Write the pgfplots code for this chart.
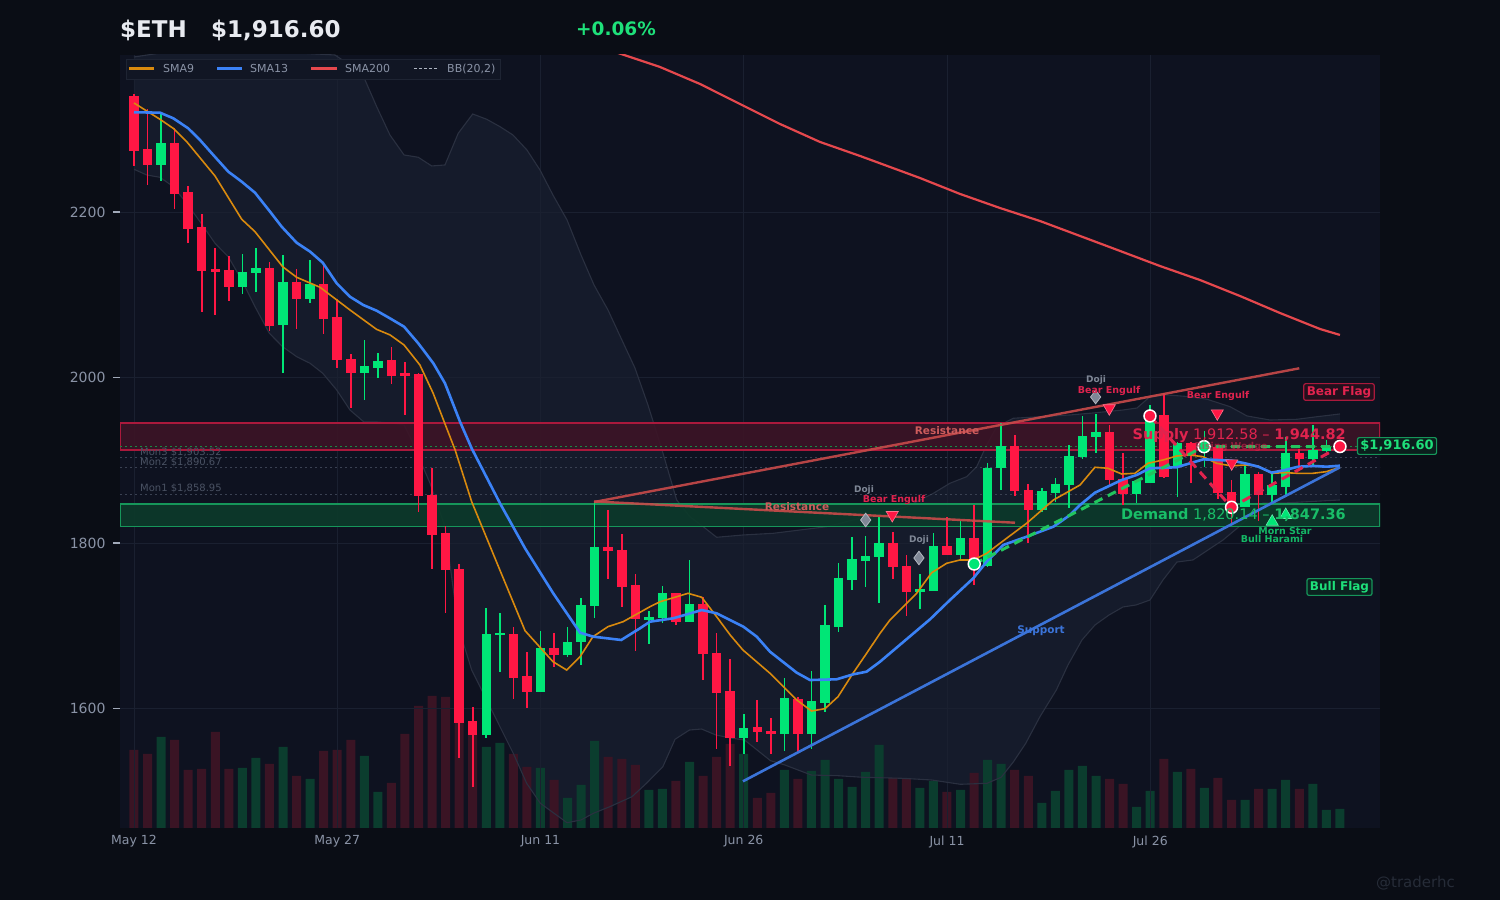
\documentclass[border=0pt]{standalone}
\usepackage{fontspec}
\setmainfont{DejaVu Sans}
\usepackage{pgfplots}
\pgfplotsset{compat=1.18}
\usepackage{pgfplotstable}

\definecolor{outerbg}{HTML}{0A0D15}
\definecolor{plotbg}{HTML}{0E1220}
\definecolor{bbfill}{HTML}{151B2B}
\definecolor{bbline}{HTML}{2A3040}
\definecolor{gridc}{HTML}{1A2030}
\definecolor{tickc}{HTML}{8A93A6}
\definecolor{bull}{HTML}{00E676}
\definecolor{bear}{HTML}{FF1744}
\definecolor{volbull}{HTML}{0B3D2E}
\definecolor{volbear}{HTML}{3A1424}
\definecolor{smanine}{HTML}{D98A0E}
\definecolor{smathirteen}{HTML}{3B82F6}
\definecolor{smatwohundred}{HTML}{E5484D}
\definecolor{supfill}{HTML}{3C1426}
\definecolor{supedge}{HTML}{AA193C}
\definecolor{demfill}{HTML}{0C3A2A}
\definecolor{demedge}{HTML}{16965A}
\definecolor{resc}{HTML}{C94A4A}
\definecolor{supc}{HTML}{3B74D9}
\definecolor{dgreen}{HTML}{22C55E}
\definecolor{dred}{HTML}{E0234E}
\definecolor{monc}{HTML}{3A4152}
\definecolor{monlab}{HTML}{4A5263}
\definecolor{legbg}{HTML}{111624}
\definecolor{legedge}{HTML}{1E2433}
\definecolor{titlec}{HTML}{E8EAF0}
\definecolor{pctc}{HTML}{1EE07A}
\definecolor{dojic}{HTML}{7F8796}
\definecolor{labgreen}{HTML}{14B866}
\definecolor{wmark}{HTML}{262C38}

\newcommand\fs[1]{\fontsize{#1}{#1}\selectfont}

% candles: i O H L C
\pgfplotstableread{
i O H L C
2 2257 2319 2237 2283
8 2110 2149 2101 2127
9 2127 2156 2103 2132
11 2064 2148 2006 2115
13 2096 2142 2090 2112
17 2006 2045 1973 2013
18 2012 2030 1999 2019
26 1568 1721 1564 1690
27 1689 1716 1644 1691
30 1620 1694 1620 1673
32 1665 1698 1662 1680
33 1681 1733 1652 1725
34 1724 1849 1709 1795
38 1708 1718 1678 1710
39 1710 1748 1703 1739
41 1705 1779 1704 1726
45 1565 1593 1545 1576
48 1570 1637 1549 1612
50 1570 1645 1551 1608
51 1607 1725 1596 1700
52 1699 1776 1693 1757
53 1756 1807 1743 1780
54 1779 1808 1747 1784
55 1784 1832 1728 1799
58 1741 1762 1720 1744
59 1743 1812 1743 1796
61 1786 1826 1779 1805
63 1773 1897 1771 1890
64 1891 1945 1864 1917
67 1840 1866 1838 1862
68 1861 1879 1850 1871
69 1871 1919 1842 1904
70 1904 1954 1901 1929
71 1929 1956 1909 1933
74 1860 1874 1848 1874
75 1873 1967 1873 1947
77 1893 1922 1856 1920
79 1910 1935 1892 1917
82 1844 1894 1844 1883
84 1858 1884 1850 1869
85 1868 1928 1856 1908
87 1902 1943 1894 1912
88 1912 1925 1910 1915.5
89 1915.5 1920 1912 1916.6
}\bull

\pgfplotstableread{
i O H L C
0 2340 2343 2255 2274
1 2275 2324 2232 2257
3 2283 2301 2203 2222
4 2223 2232 2162 2180
5 2181 2198 2079 2129
6 2130 2157 2076 2128
7 2129 2147 2092 2110
10 2132 2140 2056 2063
12 2115 2131 2059 2096
14 2112 2140 2053 2071
15 2072 2095 2012 2022
16 2022 2028 1963 2006
19 2020 2037 1992 2003
20 2005 2019 1955 2003
21 2004 2006 1837 1857
22 1858 1891 1768 1810
23 1811 1820 1715 1768
24 1768 1775 1540 1583
25 1584 1602 1505 1568
28 1690 1698 1612 1638
29 1639 1668 1601 1620
31 1672 1691 1650 1665
35 1795 1840 1757 1791
36 1791 1811 1723 1748
37 1749 1763 1670 1709
40 1739 1740 1701 1705
42 1726 1735 1634 1666
43 1666 1691 1551 1619
44 1620 1660 1530 1565
46 1577 1610 1560 1572
47 1572 1588 1545 1570
49 1611 1614 1547 1570
56 1799 1813 1757 1771
57 1771 1785 1712 1741
60 1796 1831 1785 1786
62 1806 1846 1749 1780
65 1917 1931 1857 1863
66 1864 1871 1800 1841
72 1934 1943 1870 1877
73 1877 1909 1846 1860
76 1954 1981 1878 1880
78 1920 1922 1872 1906
80 1916 1917 1853 1861
81 1861 1876 1823 1844
83 1883 1886 1826 1858
86 1908 1914 1892 1902
}\bear

\pgfplotstableread{
i v
2 91
8 60
9 70
11 81
13 49
17 72
18 36
26 81
27 85
30 60
32 30
33 43
34 87
38 38
39 39
41 66
45 74
48 58
50 57
51 68
52 49
53 41
54 56
55 83
58 40
59 47
61 38
63 68
64 64
67 25
68 37
69 58
70 62
71 52
74 21
75 37
77 56
79 40
82 28
84 39
85 48
87 44
88 18
89 19
}\vbull

\pgfplotstableread{
i v
0 78
1 74
3 88
4 58
5 59
6 96
7 59
10 64
12 52
14 77
15 78
16 88
19 45
20 94
21 122
22 132
23 131
24 115
25 95
28 74
29 61
31 48
35 71
36 69
37 63
40 47
42 52
43 71
44 84
46 30
47 35
49 49
56 50
57 49
60 36
62 55
65 58
66 52
72 49
73 44
76 69
78 59
80 50
81 28
83 39
86 39
}\vbear

\pgfplotstableread{
i P
0 2331.7
1.92 2312
2.9 2301
3.89 2285
5.98 2243.5
7.95 2191.2
8.93 2176.2
10.97 2133.9
12.0 2121.1
13.73 2109
15.94 2081.6
17.9 2058.2
18.9 2051.4
19.93 2039.3
21.1 2015.1
22.07 1981.3
22.95 1944
23.7 1912.4
24.92 1850
27.0 1767.4
28.86 1694
30.92 1656.6
31.93 1646.5
32.92 1662.6
33.87 1686.8
34.98 1698.9
36.1 1704.9
38.08 1723
38.82 1729
40.89 1739.2
41.9 1734.4
43.0 1710.9
44.0 1688.8
44.94 1670.7
46.94 1642.5
48.91 1610.3
50.0 1597
51.0 1599.8
51.96 1614.3
53.06 1642.5
54.07 1666.7
55.06 1690.9
55.79 1706.9
57.76 1739.2
58.87 1764.1
59.98 1775.5
60.96 1779.5
61.94 1779.5
62.93 1787.5
64.4 1805.7
65.88 1823.8
67.85 1851.9
69.82 1870.1
70.92 1891.5
71.88 1890.3
72.89 1883.4
73.87 1884.2
74.83 1896.3
75.94 1900.3
76.95 1905.1
77.93 1906.3
78.89 1904.3
79.9 1896.3
81.0 1893.1
82.0 1894.3
82.95 1893.1
83.96 1884.2
84.94 1885
85.9 1884.2
87.0 1884.2
88.0 1886.2
89.0 1891.5
}\smanine

\pgfplotstableread{
i P
0 2320.5
1.92 2320
2.9 2313.2
4.0 2301.1
4.87 2287
5.85 2268.9
6.96 2248.7
7.95 2236.6
8.93 2223.3
10.04 2200.4
10.9 2182.2
12.0 2162.9
13.0 2152
13.93 2138.7
14.96 2113.8
15.94 2097.6
16.92 2087.6
17.91 2080.7
18.89 2071.5
19.93 2061.4
20.98 2041.3
22.09 2017.2
22.95 1993
24.06 1946.6
24.92 1914.4
27.01 1848
28.86 1793.6
30.94 1739.2
32.92 1691.6
33.9 1686.8
35.96 1682.8
37.34 1696.9
38.08 1704.9
39.8 1709
41.9 1719
43.0 1715
44.97 1698.9
45.96 1686.8
46.94 1668.6
48.91 1643.3
49.89 1634.4
51.86 1635.3
53.08 1641.3
54.07 1644.5
55.06 1656.6
58.75 1707.8
60.22 1731.1
61.94 1757.4
62.93 1777.4
64.15 1797.6
65.88 1807.6
67.85 1819.7
69.08 1833.8
69.82 1845.9
70.92 1860.8
72.89 1876.1
74.0 1882.2
74.98 1890.3
76.95 1891.5
77.93 1896.3
78.92 1901.1
79.9 1900.3
81.0 1899.5
82.0 1896.3
82.98 1892.2
83.96 1885
84.94 1888.2
85.93 1892.2
87.03 1893.1
88.02 1892.2
89.0 1893.4
}\smathirteen

\pgfplotstableread{
i P
33.4 2400
35.5 2393.4
38.82 2375.2
41.77 2354.7
44.72 2330.5
47.68 2306.3
50.63 2284.6
53.58 2267.7
58.0 2241.1
60.96 2221.8
63.91 2204.8
66.86 2189.1
69.82 2171
72.77 2152.9
75.72 2134.7
78.67 2117.8
81.62 2098.5
84.58 2077.9
87.53 2058.6
89.0 2051.4
}\smatwohundred

\pgfplotstableread{
i P
0 2387.3
1.92 2392
4.87 2392
12.25 2392
14.83 2389.7
15.94 2377.6
17.05 2359.5
17.91 2327.3
18.89 2293
19.93 2268.9
20.98 2266.1
21.97 2255.6
22.95 2256.8
23.93 2295.1
25.0 2318.4
26.03 2312
27.01 2303.1
27.97 2293
29.0 2274.9
29.96 2250.8
30.92 2220.5
31.96 2190.3
32.99 2148
33.95 2111.8
34.98 2081.6
35.94 2047.7
36.97 2011.5
37.93 1966.8
38.97 1912.4
40.05 1852
41.03 1831.8
42.01 1819.7
43.0 1806.9
44.97 1809.7
47.18 1811.7
49.15 1815.7
51.12 1819.7
53.08 1827.8
55.06 1835.9
57.03 1843.9
58.99 1860
60.22 1872.2
61.45 1880.1
62.19 1892.2
62.93 1918.4
63.67 1940.5
64.89 1950.7
66.86 1952.6
69.08 1954.7
70.77 1957.1
72.99 1960.7
74.02 1963.1
74.98 1976.8
76.21 1978.9
77.93 1976.8
79.19 1973.7
80.89 1964.7
82.14 1953.5
83.84 1948.6
85.83 1949.5
87.31 1952.6
89.0 1955.9
}\bbup

\pgfplotstableread{
i P
0 2251.6
0.94 2244.7
1.92 2241.9
2.9 2230.6
3.89 2210.5
4.87 2188.3
5.98 2162.2
6.96 2146
7.95 2117.8
8.93 2085.6
9.99 2053.4
10.97 2037.2
12.01 2025.1
12.99 2017.2
13.93 2005.1
14.96 1984.9
15.94 1960.7
16.97 1946.2
17.93 1946.2
18.97 1945
19.93 1942.6
20.37 1928.5
21.85 1872.1
22.95 1819.7
23.93 1698.9
24.92 1646.5
26.03 1610.3
27.01 1578
27.99 1545.9
28.98 1509.6
29.99 1485.4
31.96 1462
32.99 1465.3
33.91 1473.4
35.11 1481.3
36.75 1493.4
37.82 1509.6
39.03 1529.7
39.93 1562.8
40.99 1574
41.89 1575.2
42.94 1568
44.15 1564
45.06 1561.9
46.98 1536.9
48.04 1531.7
49.99 1519.6
51.96 1518.8
53.76 1516.9
56.78 1515.6
58.88 1513.6
60.99 1508.4
62.95 1509.6
64.0 1516.9
64.91 1535.7
65.81 1557.9
66.86 1590.1
68.07 1622.4
68.93 1652.6
69.96 1682.8
70.92 1700.9
71.96 1713
72.99 1722.7
73.95 1725.1
74.98 1731.1
75.94 1755.3
76.97 1777
78.15 1779.5
80.37 1803.6
82.14 1827.8
83.32 1848.3
84.8 1848.3
89.0 1852
}\bblow

% band area: upper band forward, lower band backward
\pgfplotstableread{
i P
0 2387.3
1.92 2392
4.87 2392
12.25 2392
14.83 2389.7
15.94 2377.6
17.05 2359.5
17.91 2327.3
18.89 2293
19.93 2268.9
20.98 2266.1
21.97 2255.6
22.95 2256.8
23.93 2295.1
25.0 2318.4
26.03 2312
27.01 2303.1
27.97 2293
29.0 2274.9
29.96 2250.8
30.92 2220.5
31.96 2190.3
32.99 2148
33.95 2111.8
34.98 2081.6
35.94 2047.7
36.97 2011.5
37.93 1966.8
38.97 1912.4
40.05 1852
41.03 1831.8
42.01 1819.7
43.0 1806.9
44.97 1809.7
47.18 1811.7
49.15 1815.7
51.12 1819.7
53.08 1827.8
55.06 1835.9
57.03 1843.9
58.99 1860
60.22 1872.2
61.45 1880.1
62.19 1892.2
62.93 1918.4
63.67 1940.5
64.89 1950.7
66.86 1952.6
69.08 1954.7
70.77 1957.1
72.99 1960.7
74.02 1963.1
74.98 1976.8
76.21 1978.9
77.93 1976.8
79.19 1973.7
80.89 1964.7
82.14 1953.5
83.84 1948.6
85.83 1949.5
87.31 1952.6
89.0 1955.9
89.0 1852
84.8 1848.3
83.32 1848.3
82.14 1827.8
80.37 1803.6
78.15 1779.5
76.97 1777
75.94 1755.3
74.98 1731.1
73.95 1725.1
72.99 1722.7
71.96 1713
70.92 1700.9
69.96 1682.8
68.93 1652.6
68.07 1622.4
66.86 1590.1
65.81 1557.9
64.91 1535.7
64.0 1516.9
62.95 1509.6
60.99 1508.4
58.88 1513.6
56.78 1515.6
53.76 1516.9
51.96 1518.8
49.99 1519.6
48.04 1531.7
46.98 1536.9
45.06 1561.9
44.15 1564
42.94 1568
41.89 1575.2
40.99 1574
39.93 1562.8
39.03 1529.7
37.82 1509.6
36.75 1493.4
35.11 1481.3
33.91 1473.4
32.99 1465.3
31.96 1462
29.99 1485.4
28.98 1509.6
27.99 1545.9
27.01 1578
26.03 1610.3
24.92 1646.5
23.93 1698.9
22.95 1819.7
21.85 1872.1
20.37 1928.5
19.93 1942.6
18.97 1945
17.93 1946.2
16.97 1946.2
15.94 1960.7
14.96 1984.9
13.93 2005.1
12.99 2017.2
12.01 2025.1
10.97 2037.2
9.99 2053.4
8.93 2085.6
7.95 2117.8
6.96 2146
5.98 2162.2
4.87 2188.3
3.89 2210.5
2.9 2230.6
1.92 2241.9
0.94 2244.7
0 2251.6
}\bbarea

\pgfplotsset{
  chartgeom/.style={at={(120pt,72pt)}, anchor=south west, width=1260pt, height=773pt,
    scale only axis, xmin=-1.033, xmax=91.96},
  nodecor/.style={axis line style={draw=none}, ticks=none, xticklabels={}, yticklabels={}},
  candle/.style={only marks, mark=*, mark size=0pt, mark options={draw=none, fill=none}, forget plot,
    error bars/.cd, y dir=both, y explicit, error mark=none,
    error bar style={line width=#1}},
}

\begin{document}
\begin{tikzpicture}
\useasboundingbox (0pt,0pt) rectangle (1500pt,900pt);
\fill[outerbg] (0pt,0pt) rectangle (1500pt,900pt);
\fill[plotbg] (120pt,72pt) rectangle (1380pt,845pt);

% Bollinger fill
\begin{axis}[chartgeom, nodecor, ymin=1455.6, ymax=2389.7, clip=true]
\addplot[fill=bbfill, draw=none] table[x=i,y=P] {\bbarea} -- cycle;
\end{axis}

% Volume
\begin{axis}[chartgeom, nodecor, ymin=0, ymax=773, clip=true]
\addplot[ybar, bar width=9pt, bar shift=0pt, fill=volbull, draw=none] table[x=i,y=v] {\vbull};
\addplot[ybar, bar width=9pt, bar shift=0pt, fill=volbear, draw=none] table[x=i,y=v] {\vbear};
\end{axis}

% Main price axis
\begin{axis}[chartgeom, ymin=1455.6, ymax=2389.7, clip=true,
  axis line style={draw=none},
  xtick={0,15,30,45,60,75},
  xticklabels={May 12,May 27,Jun 11,Jun 26,Jul 11,Jul 26},
  ytick={1600,1800,2000,2200},
  yticklabels={1600,1800,2000,2200},
  ytick pos=left, xtick pos=bottom,
  tick align=outside, major tick length=7pt,
  xtick style={draw=none},
  ytick style={color=tickc!80, line width=1.3pt},
  yticklabel style={font=\fs{14}, color=tickc, xshift=-4pt},
  xticklabel style={font=\fs{12.5}, color=tickc, yshift=3pt},
  xmajorgrids, ymajorgrids,
  grid style={color=gridc, line width=0.8pt},
]
% Bollinger lines
\addplot[bbline, line width=1.1pt] table[x=i,y=P] {\bbup};
\addplot[bbline, line width=1.1pt] table[x=i,y=P] {\bblow};

% Supply / demand zones
\addplot[fill=supfill, fill opacity=0.9, draw=supedge, line width=1.4pt]
  coordinates {(-1.033,1912.58) (91.96,1912.58) (91.96,1944.82) (-1.033,1944.82) (-1.033,1912.58)};
\addplot[fill=demfill, fill opacity=0.9, draw=demedge, line width=1.4pt]
  coordinates {(-1.033,1820.14) (91.96,1820.14) (91.96,1847.36) (-1.033,1847.36) (-1.033,1820.14)};

% monthly levels and current price
\addplot[monc, line width=1pt, dash pattern=on 2pt off 3pt] coordinates {(-1.033,1903.52) (91.96,1903.52)};
\addplot[monc, line width=1pt, dash pattern=on 2pt off 3pt] coordinates {(-1.033,1890.67) (91.96,1890.67)};
\addplot[monc, line width=1pt, dash pattern=on 2pt off 3pt] coordinates {(-1.033,1858.95) (91.96,1858.95)};
\addplot[dgreen!70!black, line width=1pt, dash pattern=on 2pt off 3pt] coordinates {(-1.033,1916.6) (91.96,1916.6)};

% SMA200
\addplot[smatwohundred, line width=2.2pt] table[x=i,y=P] {\smatwohundred};

% candles: wicks
\addplot[bull, candle=1.6pt]
  table[x=i, y expr={(\thisrow{H}+\thisrow{L})/2}, y error expr={(\thisrow{H}-\thisrow{L})/2}] {\bull};
\addplot[bear, candle=1.6pt]
  table[x=i, y expr={(\thisrow{H}+\thisrow{L})/2}, y error expr={(\thisrow{H}-\thisrow{L})/2}] {\bear};
% candles: bodies
\addplot[bull, candle=9.5pt]
  table[x=i, y expr={(\thisrow{O}+\thisrow{C})/2}, y error expr={abs(\thisrow{C}-\thisrow{O})/2+0.6}] {\bull};
\addplot[bear, candle=9.5pt]
  table[x=i, y expr={(\thisrow{O}+\thisrow{C})/2}, y error expr={abs(\thisrow{C}-\thisrow{O})/2+0.6}] {\bear};

% SMA 9 / 13
\addplot[smanine, line width=1.6pt] table[x=i,y=P] {\smanine};
\addplot[smathirteen, line width=2.6pt] table[x=i,y=P] {\smathirteen};

% trend lines
\addplot[resc, opacity=0.9, line width=2.4pt] coordinates {(33.95,1850.2) (65.02,1824.5)};
\addplot[resc, opacity=0.9, line width=2.4pt] coordinates {(33.95,1849.5) (86.0,2011.1)};
\addplot[supc, line width=2.6pt] coordinates {(44.94,1512) (89,1891.5)};
\addplot[dgreen, line width=3pt, dash pattern=on 9pt off 6pt] coordinates {(62.01,1774.6) (78.97,1916.4) (89,1916.4)};
\addplot[dred, line width=3pt, dash pattern=on 9pt off 6pt] coordinates {(74.98,1953.5) (81.0,1843.1) (89,1916.6)};

% pattern markers
\addplot[only marks, mark=diamond*, mark size=6.8pt, mark options={fill=dojic, draw=dojic!60!white, line width=0.8pt}]
  coordinates {(70.97,1976.4) (54.0,1827.8) (57.93,1781.9)};
\addplot[only marks, mark=triangle*, mark size=7pt, mark options={rotate=180, fill=bear, draw=bear!60!white, line width=0.6pt}]
  coordinates {(71.98,1962.8) (79.95,1956.7) (55.96,1833.8) (81.01,1896.3)};
\addplot[only marks, mark=triangle*, mark size=7pt, mark options={fill=bull, draw=bull!60!white, line width=0.6pt}]
  coordinates {(84.0,1825.7) (85.0,1833.8)};
\addplot[only marks, mark=*, mark size=6pt, mark options={fill=bear, draw=white, line width=1.5pt}]
  coordinates {(74.98,1953.5) (81.0,1843.1) (89,1916.6)};
\addplot[only marks, mark=*, mark size=6pt, mark options={fill=bull, draw=white, line width=1.5pt}]
  coordinates {(62.01,1774.6) (78.97,1916.4)};
\end{axis}

% ---- absolute annotations (image pixel coordinates, y downward) ----
\begin{scope}[x=1pt, y=-1pt, shift={(0pt,900pt)}]
% title
\node[anchor=base west, inner sep=0, text=titlec, font=\fs{23}\bfseries] at (120,37.5) {\$ETH};
\node[anchor=base west, inner sep=0, text=titlec, font=\fs{23}\bfseries] at (211,37.5) {\$1,916.60};
\node[anchor=base west, inner sep=0, text=pctc, font=\fs{18.5}\bfseries] at (576,35.5) {+0.06\%};

% legend
\fill[legbg] (126,59) rectangle (500,79);
\draw[legedge, line width=0.8pt] (126,59) rectangle (500,79);
\draw[smanine, line width=2.2pt] (129,68.5) -- (154,68.5);
\node[anchor=west, inner sep=0, text=tickc, font=\fs{11}] at (163,69) {SMA9};
\draw[smathirteen, line width=2.2pt] (217,68.5) -- (242,68.5);
\node[anchor=west, inner sep=0, text=tickc, font=\fs{11}] at (250,69) {SMA13};
\draw[smatwohundred, line width=2.2pt] (311,68.5) -- (337,68.5);
\node[anchor=west, inner sep=0, text=tickc, font=\fs{11}] at (345,69) {SMA200};
\draw[tickc!70, line width=1pt, dash pattern=on 3pt off 2pt] (414,68.5) -- (438,68.5);
\node[anchor=west, inner sep=0, text=tickc, font=\fs{11}] at (447,69) {BB(20,2)};

% level labels
\node[anchor=west, inner sep=0, text=monlab, font=\fs{10}] at (140,452) {Mon3 \$1,903.52};
\node[anchor=west, inner sep=0, text=monlab, font=\fs{10}] at (140,462.5) {Mon2 \$1,890.67};
\node[anchor=west, inner sep=0, text=monlab, font=\fs{10}] at (140,488.5) {Mon1 \$1,858.95};

% trend labels
\node[text=resc!90, font=\fs{10.5}\bfseries, inner sep=0] at (947,431) {Resistance};
\node[text=resc!90, font=\fs{10.5}\bfseries, inner sep=0] at (797,507) {Resistance};
\node[text=supc, font=\fs{10.5}\bfseries, inner sep=0] at (1041,631) {Support};

% pattern labels
\node[text=dojic, font=\fs{9}\bfseries, inner sep=0] at (1096,380) {Doji};
\node[text=dojic, font=\fs{9}\bfseries, inner sep=0] at (864,490.5) {Doji};
\node[text=dojic, font=\fs{9}\bfseries, inner sep=0] at (919,540) {Doji};
\node[text=dred, font=\fs{9.5}\bfseries, inner sep=0] at (1109,391) {Bear Engulf};
\node[text=dred, font=\fs{9.5}\bfseries, inner sep=0] at (1218,396) {Bear Engulf};
\node[text=dred, font=\fs{9.5}\bfseries, inner sep=0] at (894,500) {Bear Engulf};
\node[text=labgreen, font=\fs{9.5}\bfseries, inner sep=0] at (1272,538.5) {Bull Harami};
\node[text=labgreen, font=\fs{9.5}\bfseries, inner sep=0] at (1285,531.5) {Morn Star};
\node[text=dred, text opacity=0.55, font=\fs{9.5}\bfseries, inner sep=0] at (1231,447) {Rising Wedge};

% zone labels
\node[anchor=east, text=dred, font=\fs{14.5}, inner sep=0] at (1346,436) {\textbf{Supply} 1,912.58 -- \textbf{1,944.82}};
\node[anchor=east, text=pctc!85!black, font=\fs{14.5}, inner sep=0] at (1346,515) {\textbf{Demand} 1,820.14 -- \textbf{1,847.36}};

% flag boxes
\node[draw=supedge, fill=supfill!50!outerbg, line width=1.2pt, rounded corners=2pt, text=dred, font=\fs{12}\bfseries, inner xsep=3pt, inner ysep=2.5pt] at (1339,392) {Bear Flag};
\node[draw=demedge, fill=demfill!50!outerbg, line width=1.2pt, rounded corners=2pt, text=pctc, font=\fs{12}\bfseries, inner xsep=3pt, inner ysep=2.5pt] at (1339.5,587) {Bull Flag};
% price box
\node[draw=demedge, fill=demfill!40!outerbg, line width=1.2pt, rounded corners=2pt, text=pctc, font=\fs{13}\bfseries, inner xsep=3pt, inner ysep=2.5pt] at (1397,446) {\$1,916.60};

% watermark
\node[anchor=east, text=wmark, font=\fs{15}, inner sep=0] at (1455,883) {@traderhc};
\end{scope}
\end{tikzpicture}
\end{document}
